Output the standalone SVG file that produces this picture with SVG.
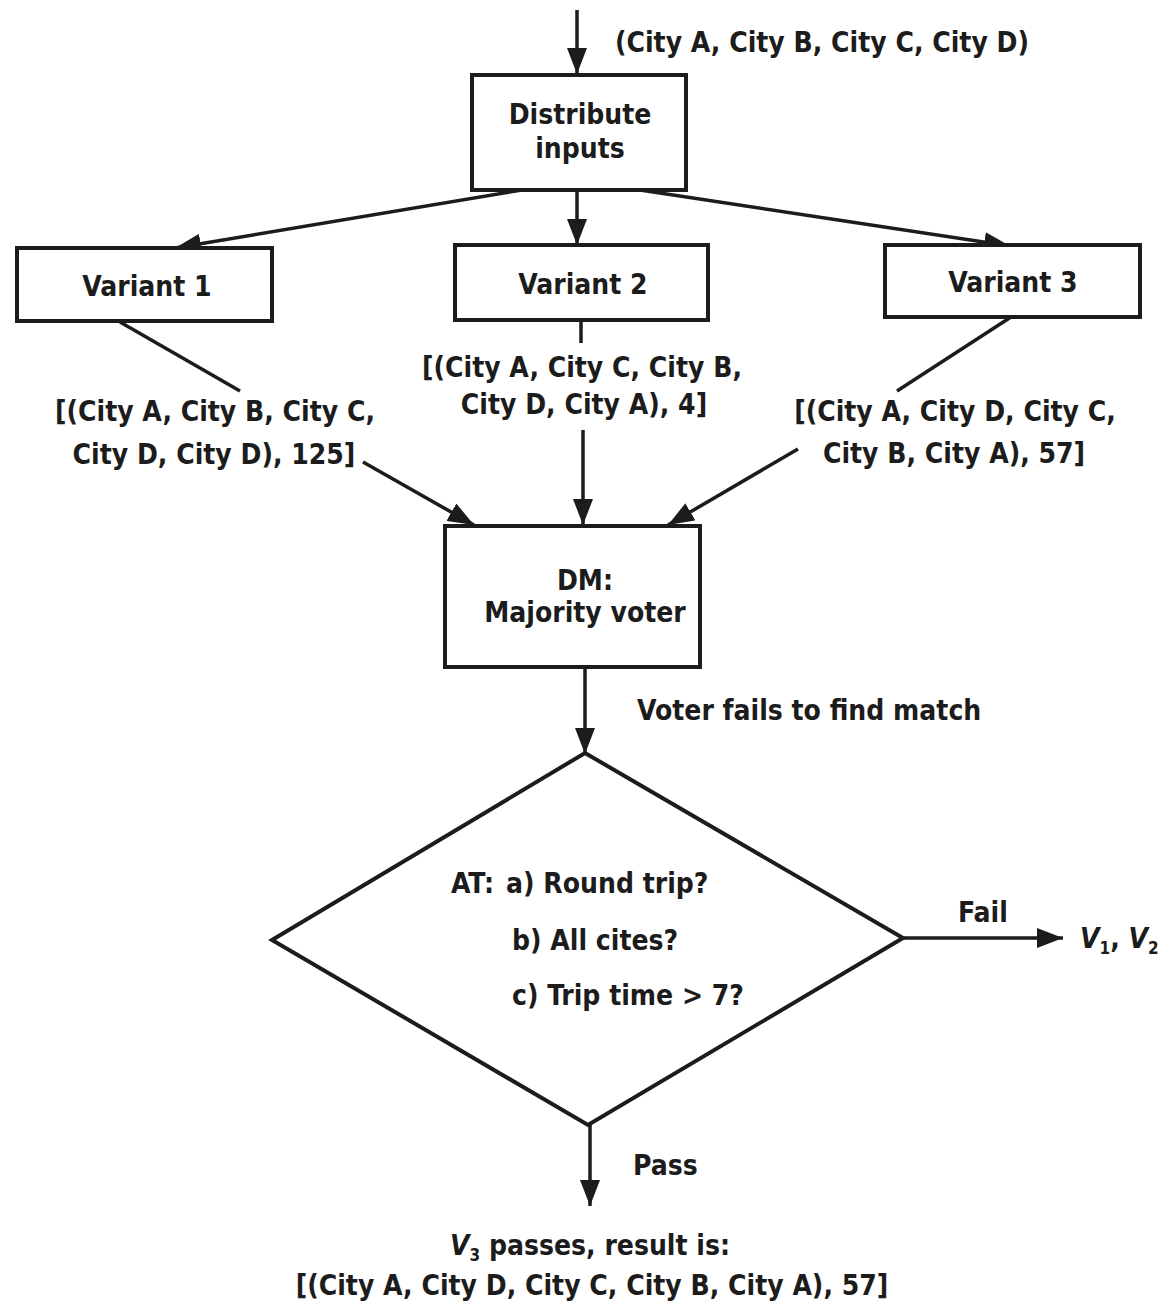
<svg xmlns="http://www.w3.org/2000/svg" width="1158" height="1304" viewBox="0 0 1158 1304">
  <style>
    .box { fill: #ffffff; stroke: #1c1c1c; stroke-width: 4; }
    .link { fill: none; stroke: #1c1c1c; stroke-width: 3.5; }
    text { font-family: "DejaVu Sans Condensed", "Liberation Sans", sans-serif; font-weight: bold; font-size: 28px; fill: #1c1c1c; }
    .mid { text-anchor: middle; }
    .it { font-style: italic; }
    .sub { font-size: 17px; }
  </style>
  <defs>
    <marker id="arrow" markerUnits="userSpaceOnUse" markerWidth="26" markerHeight="20" refX="26" refY="10" orient="auto">
      <path d="M0,0 L26,10 L0,20 Z" fill="#1c1c1c"/>
    </marker>
  </defs>
  <rect width="1158" height="1304" fill="#ffffff"/>

  <!-- connectors -->
  <g id="connectors">
    <line class="link" x1="577" y1="10" x2="577" y2="74" marker-end="url(#arrow)"/>
    <line class="link" x1="522" y1="190" x2="175" y2="248" marker-end="url(#arrow)"/>
    <line class="link" x1="577" y1="190" x2="577" y2="245" marker-end="url(#arrow)"/>
    <line class="link" x1="640" y1="190" x2="1010" y2="246" marker-end="url(#arrow)"/>
    <line class="link" x1="120" y1="322" x2="240" y2="391"/>
    <line class="link" x1="581" y1="320" x2="581" y2="343"/>
    <line class="link" x1="1011" y1="317" x2="897" y2="391"/>
    <line class="link" x1="363" y1="462" x2="474" y2="525" marker-end="url(#arrow)"/>
    <line class="link" x1="583" y1="430" x2="583" y2="525" marker-end="url(#arrow)"/>
    <line class="link" x1="798" y1="449" x2="668" y2="525" marker-end="url(#arrow)"/>
    <line class="link" x1="585" y1="667" x2="585" y2="754" marker-end="url(#arrow)"/>
    <line class="link" x1="903" y1="938" x2="1063" y2="938" marker-end="url(#arrow)"/>
    <line class="link" x1="590" y1="1125" x2="590" y2="1206" marker-end="url(#arrow)"/>
  </g>

  <!-- input label -->
  <g id="input-label">
    <text x="615" y="52">(City A, City B, City C, City D)</text>
  </g>

  <g id="distribute">
    <rect class="box" x="472" y="75" width="214" height="115"/>
    <text class="mid" x="580" y="124">Distribute</text>
    <text class="mid" x="580" y="158">inputs</text>
  </g>

  <g id="variant1">
    <rect class="box" x="17" y="248" width="255" height="73"/>
    <text class="mid" x="147" y="296">Variant 1</text>
  </g>

  <g id="variant2">
    <rect class="box" x="455" y="245" width="253" height="75"/>
    <text class="mid" x="583" y="294">Variant 2</text>
  </g>

  <g id="variant3">
    <rect class="box" x="885" y="245" width="255" height="72"/>
    <text class="mid" x="1013" y="292">Variant 3</text>
  </g>

  <!-- variant results -->
  <g id="result1">
    <text class="mid" x="215" y="421">[(City A, City B, City C,</text>
    <text class="mid" x="214" y="464">City D, City D), 125]</text>
  </g>
  <g id="result2">
    <text class="mid" x="582" y="377">[(City A, City C, City B,</text>
    <text class="mid" x="584" y="414">City D, City A), 4]</text>
  </g>
  <g id="result3">
    <text class="mid" x="955" y="421">[(City A, City D, City C,</text>
    <text class="mid" x="954" y="463">City B, City A), 57]</text>
  </g>

  <g id="voter">
    <rect class="box" x="445" y="526" width="255" height="141"/>
    <text class="mid" x="585" y="590">DM:</text>
    <text class="mid" x="585" y="622">Majority voter</text>
  </g>

  <g id="voter-fail-label">
    <text x="637" y="720">Voter fails to find match</text>
  </g>

  <g id="acceptance-test">
    <polygon class="box" points="585,753 903,938 588,1125 272,940"/>
    <text x="451" y="893">AT:<tspan dx="12">a) Round trip?</tspan></text>
    <text x="512" y="950">b) All cites?</text>
    <text x="512" y="1005">c) Trip time &gt; 7?</text>
  </g>

  <g id="fail-output">
    <text x="958" y="922">Fail</text>
    <text x="1080" y="948"><tspan class="it">V</tspan><tspan class="sub" dy="6">1</tspan><tspan dy="-6">, </tspan><tspan class="it">V</tspan><tspan class="sub" dy="6">2</tspan></text>
  </g>

  <g id="pass-output">
    <text x="633" y="1175">Pass</text>
    <text class="mid" x="590" y="1255"><tspan class="it">V</tspan><tspan class="sub" dy="6">3</tspan><tspan dy="-6"> passes, result is:</tspan></text>
    <text class="mid" x="592" y="1295">[(City A, City D, City C, City B, City A), 57]</text>
  </g>
</svg>
